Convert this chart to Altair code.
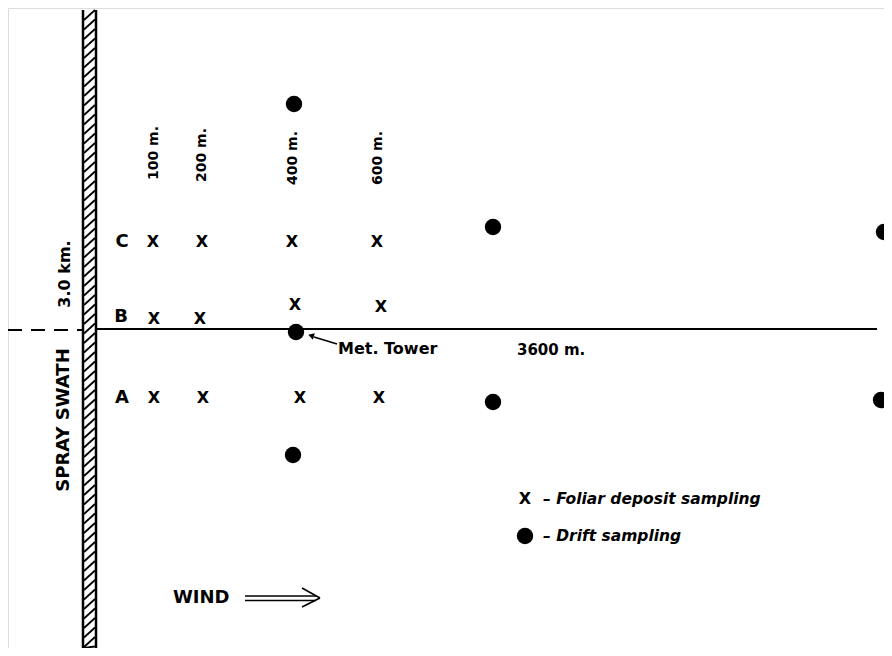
import altair as alt
import pandas as pd

# ---------------- data (diagram coordinates, page-like units) ----------------
row_labels = ["C", "B", "A"]
row_label_x = [122, 121, 122]
row_label_y = [242, 317, 398]

foliar_x = [153, 202, 292, 377, 154, 200, 295, 381, 154, 203, 300, 379]
foliar_y = [242, 242, 242, 242, 319, 319, 305, 307, 398, 398, 398, 398]

drift_x = [294, 493, 884, 296, 493, 881, 293]
drift_y = [104, 227, 232, 332, 402, 400, 455]

distance_labels = ["100 m.", "200 m.", "400 m.", "600 m."]
distance_x = [154, 202, 293, 378]
distance_y = [153, 155, 158, 158]

# ---------------- scales ----------------
W, H = 876, 640
xs = alt.Scale(domain=[8, 884], zero=False, nice=False)
ys = alt.Scale(domain=[8, 648], zero=False, nice=False, reverse=True)

FONT = "DejaVu Sans"

def X(f="x"):
    return alt.X(f"{f}:Q", scale=xs, axis=None)

def Y(f="y"):
    return alt.Y(f"{f}:Q", scale=ys, axis=None)

# ---------------- segments ----------------
seg_rows = []
# swath borders
seg_rows += [dict(x=83, x2=83, y=10, y2=648, w=2.5), dict(x=96, x2=96, y=10, y2=648, w=2.5)]
# hatching
yt = 10.0
while yt < 648:
    seg_rows.append(dict(x=84, x2=95, y=min(yt + 10, 648), y2=yt, w=1.8))
    yt += 9.5
# main transect line
seg_rows.append(dict(x=96, x2=877, y=329, y2=329, w=2))
# met tower arrow shaft
seg_rows.append(dict(x=337, x2=314, y=344, y2=337, w=1.6))
# wind arrow
seg_rows += [
    dict(x=245, x2=316, y=596, y2=596, w=1.5),
    dict(x=245, x2=316, y=600.5, y2=600.5, w=1.5),
    dict(x=320, x2=302, y=598, y2=588, w=1.6),
    dict(x=320, x2=302, y=598, y2=607, w=1.6),
]
segs = pd.DataFrame(seg_rows)

seg_layer = alt.Chart(segs).mark_rule(color="black").encode(
    x=X("x"), x2="x2", y=Y("y"), y2="y2",
    strokeWidth=alt.StrokeWidth("w:Q", scale=None),
)

dash_layer = alt.Chart(pd.DataFrame([dict(x=8, x2=82, y=330, y2=330)])).mark_rule(
    color="black", strokeWidth=2, strokeDash=[14, 9]
).encode(x=X("x"), x2="x2", y=Y("y"), y2="y2")

arrow_head = alt.Chart(pd.DataFrame([dict(x=312, y=336)])).mark_point(
    shape="triangle", filled=True, color="black", size=45, angle=287, opacity=1
).encode(x=X("x"), y=Y("y"))

# ---------------- drift dots ----------------
drift = pd.DataFrame({"x": drift_x + [525], "y": drift_y + [536]})
dots = alt.Chart(drift).mark_circle(color="black", size=270, opacity=1, clip=True).encode(
    x=X("x"), y=Y("y")
)

# ---------------- foliar X markers ----------------
fol = pd.DataFrame({"x": foliar_x + [525], "y": foliar_y + [499], "t": ["X"] * 13})
xmarks = alt.Chart(fol).mark_text(
    font=FONT, fontSize=16, fontWeight="bold", baseline="middle", align="center", color="black"
).encode(x=X("x"), y=Y("y"), text="t:N")

# ---------------- labels ----------------
rows = pd.DataFrame({"x": row_label_x, "y": row_label_y, "t": row_labels})
row_txt = alt.Chart(rows).mark_text(
    font=FONT, fontSize=18, fontWeight="bold", baseline="middle", align="center", color="black"
).encode(x=X("x"), y=Y("y"), text="t:N")

dist = pd.DataFrame({"x": distance_x, "y": distance_y, "t": distance_labels})
dist_txt = alt.Chart(dist).mark_text(
    font=FONT, fontSize=14, fontWeight="bold", baseline="middle", align="center",
    angle=270, color="black"
).encode(x=X("x"), y=Y("y"), text="t:N")

vert = pd.DataFrame({"x": [64, 65], "y": [420, 274], "t": ["SPRAY SWATH", "3.0 km."], "s": [18, 16]})
vert_txt = alt.Chart(vert).mark_text(
    font=FONT, fontWeight="bold", baseline="middle", align="center", angle=270, color="black"
).encode(x=X("x"), y=Y("y"), text="t:N", size=alt.Size("s:Q", scale=None))

plain = pd.DataFrame({
    "x": [338, 517, 173],
    "y": [349, 350, 598],
    "t": ["Met. Tower", "3600 m.", "WIND"],
    "s": [16, 15, 18],
})
plain_txt = alt.Chart(plain).mark_text(
    font=FONT, fontWeight="bold", baseline="middle", align="left", color="black"
).encode(x=X("x"), y=Y("y"), text="t:N", size=alt.Size("s:Q", scale=None))

legend = pd.DataFrame({
    "x": [543, 543],
    "y": [499, 536],
    "t": ["\u2013  Foliar deposit sampling", "\u2013  Drift sampling"],
})
legend_txt = alt.Chart(legend).mark_text(
    font=FONT, fontSize=15.5, fontStyle="italic", fontWeight="bold",
    baseline="middle", align="left", color="black"
).encode(x=X("x"), y=Y("y"), text="t:N")

chart = alt.layer(
    seg_layer, dash_layer, arrow_head, dots, xmarks, row_txt, dist_txt,
    vert_txt, plain_txt, legend_txt
).properties(
    width=W, height=H, padding=0, autosize=alt.AutoSizeParams(type="none")
).configure_view(stroke="transparent", strokeWidth=0).configure(background="white")

chart.save("out.html", embed_options={"renderer": "svg", "actions": False})
